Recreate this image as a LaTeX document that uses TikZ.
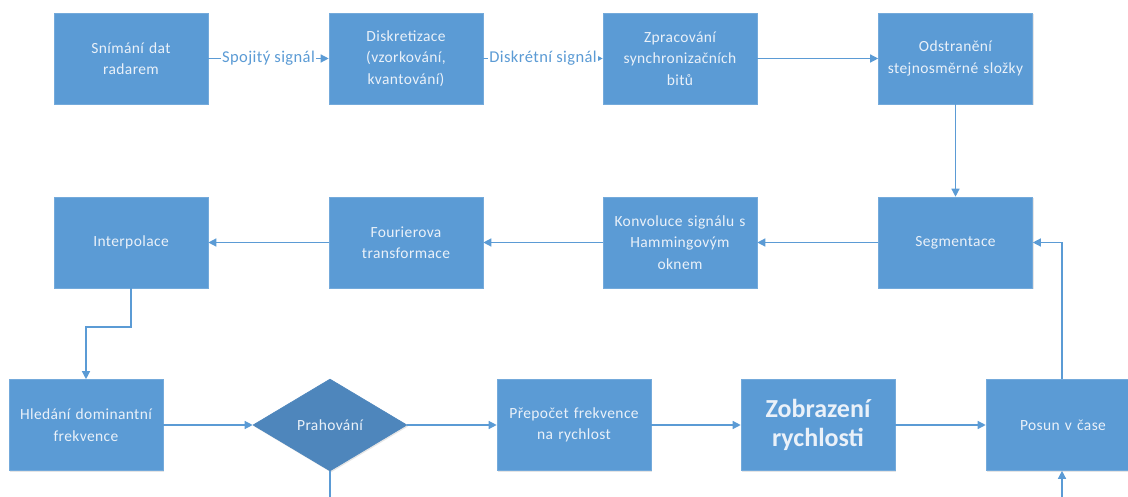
\documentclass[tikz,border=0pt]{standalone}
\usepackage{fontspec}
\setmainfont{Carlito}
\usetikzlibrary{shapes.geometric,arrows.meta,shadows}
\definecolor{boxblue}{HTML}{5B9BD5}
\definecolor{diablue}{HTML}{4E86BC}
\definecolor{txtw}{HTML}{EAF1F9}
\newcommand{\boxfont}{\fontsize{15.5}{21.5}\selectfont\addfontfeature{LetterSpace=2.5}}
\tikzset{
  stepbox/.style={rectangle, fill=boxblue, draw=boxblue!85!white, line width=0.6pt,
    minimum width=152pt, minimum height=91pt, inner sep=3pt, align=center,
    text=txtw, font=\boxfont, text width=148pt,
    drop shadow={shadow xshift=1pt, shadow yshift=-1.5pt, opacity=0.25, fill=black!40}},
  decbox/.style={diamond, fill=diablue, draw=diablue, line width=0.6pt,
    minimum width=154pt, minimum height=92pt, inner sep=0pt, align=center,
    text=txtw, font=\boxfont,
    drop shadow={shadow xshift=1pt, shadow yshift=-1.5pt, opacity=0.25, fill=black!40}},
  conn/.style={draw=boxblue, line width=1.3pt, -{Triangle[length=8pt,width=8pt]}},
  plainconn/.style={draw=boxblue, line width=1.3pt},
  lbl/.style={fill=white, text=boxblue, inner sep=1pt, font=\fontsize{16.5}{19}\selectfont\addfontfeature{LetterSpace=2.5}}
}
\begin{document}
\begin{tikzpicture}[x=1pt,y=-1pt]
\useasboundingbox (0,0) rectangle (1128,497);
\clip (0,0) rectangle (1128,497);
% row 1
\node[stepbox] (a1) at (131,58.5) {Snímání dat\\radarem};
\node[stepbox] (a2) at (406,58.5) {Diskretizace\\(vzorkování,\\kvantování)};
\node[stepbox] (a3) at (680,58.5) {Zpracování\\synchronizačních\\bitů};
\node[stepbox] (a4) at (955.5,58.5) {Odstranění\\stejnosměrné složky};
% row 2
\node[stepbox] (b1) at (131,242.5) {Interpolace};
\node[stepbox] (b2) at (406,242.5) {Fourierova\\transformace};
\node[stepbox] (b3) at (680,242.5) {Konvoluce signálu s\\Hammingovým\\oknem};
\node[stepbox] (b4) at (955.5,242.5) {Segmentace};
% row 3
\node[stepbox] (c1) at (86,425) {Hledání dominantní\\frekvence};
\node[decbox] (c2) at (330,425) {Prahování};
\node[stepbox] (c3) at (574,425) {Přepočet frekvence\\na rychlost};
\node[stepbox, font=\bfseries\fontsize{26}{29}\selectfont] (c4) at (818,425) {Zobrazení\\rychlosti};
\node[stepbox] (c5) at (1063,425) {Posun v čase};
\coordinate (pbot) at (330,510);
\coordinate (qbot) at (1062,510);
\coordinate (k1) at (131,327);
\coordinate (k2) at (86,327);
\coordinate (m1) at (1062,242.5);
% connectors
\draw[conn] (a1) -- node[lbl]{Spojitý signál} (a2);
\draw[conn] (a2) -- node[lbl]{Diskrétní signál} (a3);
\draw[conn] (a3) -- (a4);
\draw[conn] (a4) -- (b4);
\draw[conn] (b4) -- (b3);
\draw[conn] (b3) -- (b2);
\draw[conn] (b2) -- (b1);
\draw[conn] (b1.south) -- (k1) -- (k2) -- (c1.north);
\draw[conn] (c1) -- (c2);
\draw[conn] (c2) -- (c3);
\draw[conn] (c3) -- (c4);
\draw[conn] (c4) -- (c5.west);
\draw[plainconn] (c2.south) -- (pbot);
\draw[conn] (qbot) -- (qbot |- c5.south);
\draw[conn] (qbot |- c5.north) -- (m1) -- (b4.east);
\end{tikzpicture}
\end{document}
